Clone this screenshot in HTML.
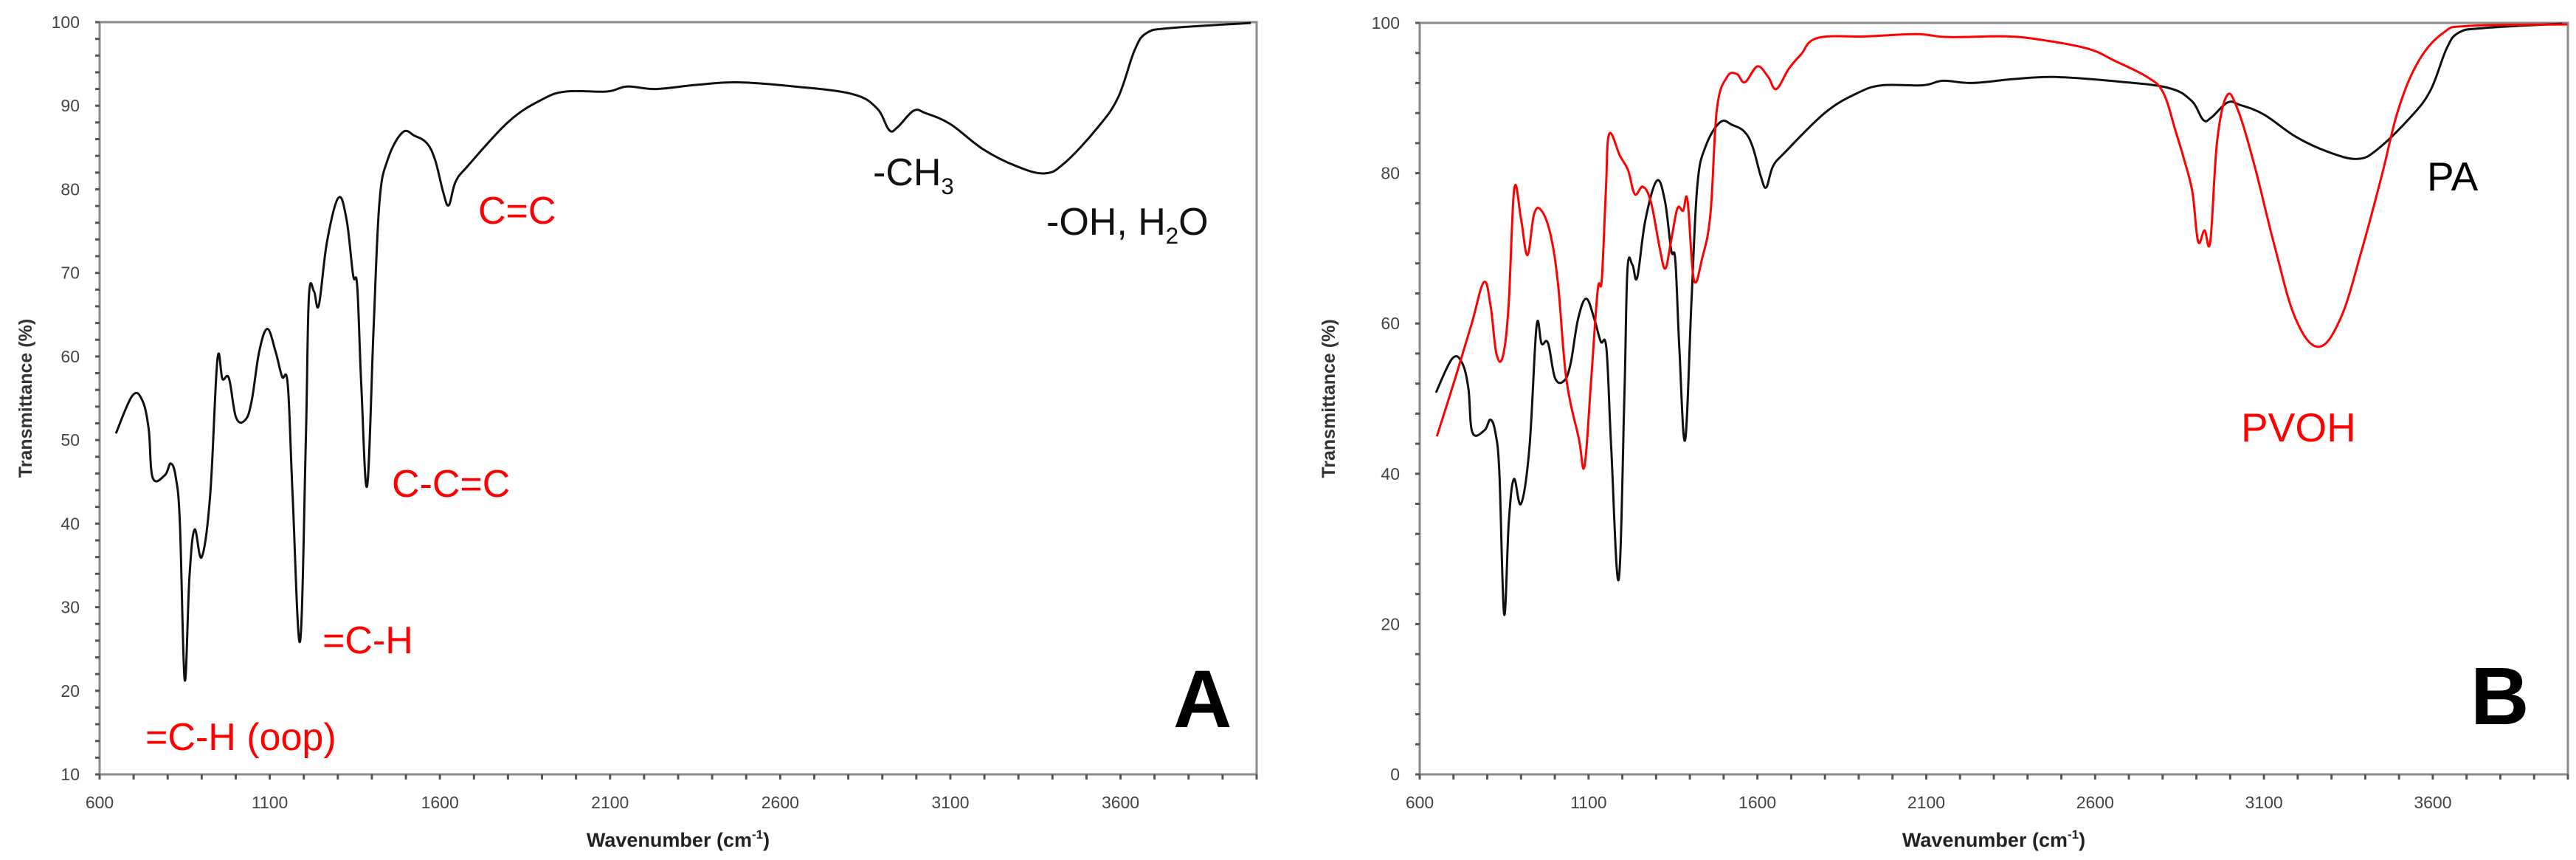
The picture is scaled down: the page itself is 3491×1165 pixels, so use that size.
<!DOCTYPE html>
<html><head><meta charset="utf-8"><style>
html,body{margin:0;padding:0;background:#fff;}
svg{display:block;font-family:"Liberation Sans",sans-serif;}
</style></head><body>
<svg id="chart" width="3491" height="1165" viewBox="0 0 3491 1165" xmlns="http://www.w3.org/2000/svg">
<rect width="3491" height="1165" fill="#fff"/>
<g id="panelA"></g>
<g id="panelB"></g>
</svg>
<script>
// PA spectrum (wavenumber cm-1, transmittance %)
const paWavenumber = [648,696,725,744,756,792,809,824,836,850,864,879,900,925,946,961,980,1001,1028,1047,1069,1093,1117,1136,1153,1167,1189,1206,1215,1230,1244,1268,1302,1326,1345,1357,1369,1386,1405,1422,1446,1490,1526,1562,1586,1610,1626,1646,1682,1802,1898,1970,2090,2150,2234,2355,2475,2643,2812,2884,2920,2944,2992,3028,3100,3196,3292,3377,3437,3533,3593,3641,3677,3749,3983];
const paTransmittance = [50.8,55.3,54.8,51.4,45.5,45.8,47.2,45.5,40,21.3,33.7,39.3,36,43.5,59.6,57.3,57.4,52.7,52.4,54.7,60.6,63.3,60.6,57.6,56.6,43.5,25.9,50.1,67.1,67.8,66.1,73.7,79,76.3,69.7,68.4,56.6,44.5,63.2,78.3,83.5,86.8,86.4,85.5,83.5,79.6,78.1,80.9,82.8,88.1,90.7,91.7,91.7,92.3,92,92.5,92.8,92.3,91.4,89.7,87.1,87.4,89.4,89.1,87.8,84.8,82.8,81.9,83.2,87.4,91,96.6,98.7,99.3,99.9];
// PVOH spectrum
const pvohWavenumber = [651,705,754,790,810,827,846,863,880,900,919,939,961,988,1010,1034,1071,1088,1107,1127,1139,1151,1161,1193,1217,1237,1261,1285,1310,1327,1344,1363,1380,1393,1412,1437,1461,1480,1510,1539,1563,1600,1632,1656,1693,1729,1778,1924,2071,2168,2339,2461,2583,2656,2754,2802,2839,2863,2888,2905,2924,2941,2961,2990,3022,3071,3132,3193,3261,3327,3388,3449,3498,3559,3632,3705,3998];
const pvohTransmittance = [45,52.7,60,65.5,62.3,56,55.6,62.3,77.9,73.9,69.1,74.6,75,71.7,65.1,52.7,44.7,41,52,64.4,65.8,77.5,85.2,82.3,80.4,77.2,78.2,76.1,70.2,67.3,70.9,75.3,75,76.4,65.8,68.8,74.6,88.5,92.8,93.2,92.1,94.2,92.8,91.2,93.9,95.8,98,98.2,98.5,98.1,98.2,97.6,96.5,95,92.8,90.7,85.5,81.9,77.5,70.9,72.4,70.9,84.1,90.3,88.5,81.2,70.2,60.7,56.9,60.7,69.5,79.7,88.5,95,98.7,99.6,99.8];
const xTickLabels = [600,1100,1600,2100,2600,3100,3600];
const yTickLabelsA = [10,20,30,40,50,60,70,80,90,100];
const yTickLabelsB = [0,20,40,60,80,100];

const NS="http://www.w3.org/2000/svg";
function mk(parent,tag,attrs,text){const e=document.createElementNS(NS,tag);for(const k in attrs)e.setAttribute(k,attrs[k]);if(text!==undefined)e.textContent=text;parent.appendChild(e);return e;}

function smoothPath(pts){
  let d='M'+pts[0][0].toFixed(1)+','+pts[0][1].toFixed(1);
  for(let i=0;i<pts.length-1;i++){
    const p0=pts[Math.max(0,i-1)],p1=pts[i],p2=pts[i+1],p3=pts[Math.min(pts.length-1,i+2)];
    const t=0.18;
    const c1=[p1[0]+(p2[0]-p0[0])*t,p1[1]+(p2[1]-p0[1])*t];
    const c2=[p2[0]-(p3[0]-p1[0])*t,p2[1]-(p3[1]-p1[1])*t];
    d+='C'+c1[0].toFixed(1)+','+c1[1].toFixed(1)+' '+c2[0].toFixed(1)+','+c2[1].toFixed(1)+' '+p2[0].toFixed(1)+','+p2[1].toFixed(1);
  }
  return d;
}

function drawPanel(g,cfg){
  const L=cfg.left,R=cfg.right,T=cfg.top,B=cfg.bottom;
  const sx=v=>L+(v-600)/(4000-600)*(R-L);
  const sy=v=>B-(v-cfg.ymin)/(cfg.ymax-cfg.ymin)*(B-T);
  const fr=mk(g,'rect',{x:L,y:T,width:R-L,height:B-T,fill:'none',stroke:'#8a8a8a','stroke-width':3});
  
  
  for(let v=cfg.ymin;v<=cfg.ymax+0.001;v+=cfg.yminor){
    const t=mk(g,'line',{x1:L-6,x2:L,y1:sy(v),y2:sy(v),stroke:'#555','stroke-width':3});
    
    
  }
  cfg.ylabels.forEach(v=>{
    const t=mk(g,'text',{x:L-27,y:sy(v)+8,'text-anchor':'end','font-size':23,fill:'#444'},String(v));
    
    
  });
  for(let v=600;v<=4000;v+=100){
    const t=mk(g,'line',{x1:sx(v),x2:sx(v),y1:B,y2:B+7,stroke:'#555','stroke-width':3});
    
    
  }
  xTickLabels.forEach(v=>{
    const t=mk(g,'text',{x:sx(v),y:B+46,'text-anchor':'middle','font-size':23,fill:'#444'},String(v));
    
    
  });
  const yt=mk(g,'text',{x:0,y:0,transform:`translate(${cfg.ytitleX},${(T+B)/2}) rotate(-90)`,'text-anchor':'middle','font-size':25,'font-weight':'bold',fill:'#333'},'Transmittance (%)');
  
  
  const xt=mk(g,'text',{x:(L+R)/2,y:1147,'text-anchor':'middle','font-size':27,'font-weight':'bold',fill:'#222'});
  
  
  xt.appendChild(document.createTextNode('Wavenumber (cm'));
  mk(xt,'tspan',{'font-size':17,dy:-11},'-1');
  mk(xt,'tspan',{dy:11},')');
  cfg.series.forEach(s=>{
    const pts=s.x.map((v,i)=>[sx(v),sy(s.y[i])]);
    const p=mk(g,'path',{d:smoothPath(pts),fill:'none',stroke:s.color,'stroke-width':3,'stroke-linejoin':'round'});
    
    
  });
}
drawPanel(document.getElementById('panelA'),{left:135,right:1703,top:30,bottom:1049,ymin:10,ymax:100,yminor:2,ylabels:yTickLabelsA,ytitleX:43,
  series:[{x:paWavenumber,y:paTransmittance,color:'#111',name:'pa-spectrum-line'}]});
drawPanel(document.getElementById('panelB'),{left:1924,right:3480,top:31,bottom:1049,ymin:0,ymax:100,yminor:4,ylabels:yTickLabelsB,ytitleX:1809,
  series:[{x:paWavenumber,y:paTransmittance,color:'#111',name:'pa-spectrum-line'},{x:pvohWavenumber,y:pvohTransmittance,color:'#f00',name:'pvoh-spectrum-line'}]});

function label(x,y,txt,color,size,name,weight,sub){
  const t=mk(document.getElementById('chart'),'text',{x:x,y:y,'font-size':size,fill:color,'font-weight':weight||'normal'});
  
  
  if(sub){sub.forEach(p=>{mk(t,'tspan',p[1]?{'font-size':size*0.6,dy:12}:{dy:p[2]||0},p[0]);});}
  else t.textContent=txt;
  return t;
}
label(648,303,'C=C','#f00',52,'annotation-c-c-double');
label(531,673,'C-C=C','#f00',52,'annotation-c-c-c');
label(437,885,'=C-H','#f00',52,'annotation-c-h');
label(197,1016,'=C-H (oop)','#f00',52,'annotation-c-h-oop');
label(1183,251,'','#111',52,'annotation-ch3',null,[['-CH',0],['3',1],['',0,-12]]);
label(1418,318,'','#111',52,'annotation-oh-h2o',null,[['-OH, H',0],['2',1],['O',0,-12]]);
label(1590,985,'A','#000',110,'panel-label-a','bold');
label(3289,258,'PA','#000',55,'legend-label-pa');
label(3037,598,'PVOH','#f00',55,'legend-label-pvoh');
label(3348,981,'B','#000',110,'panel-label-b','bold');
</script>
</body></html>
